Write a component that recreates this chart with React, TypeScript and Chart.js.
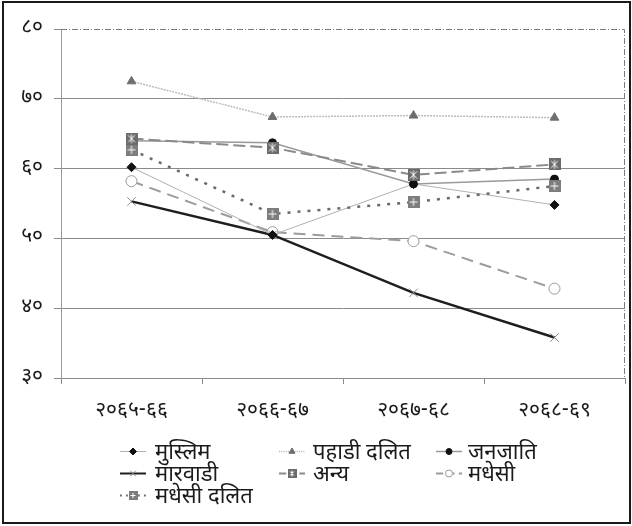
import React, { useEffect, useRef } from "react";
import { Chart, registerables } from "chart.js";
import { drawPoint } from "chart.js/helpers";

Chart.register(...registerables);

const categories = ["२०६५-६६", "२०६६-६७", "२०६७-६८", "२०६८-६९"];
const muslim = [60.2, 50.5, 57.8, 54.8];
const pahadiDalit = [72.5, 67.4, 67.6, 67.3];
const janajati = [64.0, 63.7, 57.8, 58.5];
const marwadi = [55.3, 50.5, 42.2, 35.8];
const anya = [64.3, 63.0, 59.1, 60.6];
const madhesi = [58.2, 50.9, 49.6, 42.8];
const madhesiDalit = [62.7, 53.5, 55.2, 57.5];
const seriesNames = ["मुस्लिम", "पहाडी दलित", "जनजाति", "मारवाडी", "अन्य", "मधेसी", "मधेसी दलित"];
const yMin = 30;
const yMax = 80;
const yStep = 10;

const DEV = "०१२३४५६७८९";
const toDev = (n: number) => String(n).replace(/[0-9]/g, (d) => DEV[Number(d)]);

const FONT = "'Noto Sans Devanagari', 'Lohit Devanagari', 'Noto Sans', 'DejaVu Sans', sans-serif";

function makeSquareMarker(kind: "star" | "plus", size: number, fill: string) {
  const c = document.createElement("canvas");
  c.width = size;
  c.height = size;
  const g = c.getContext("2d")!;
  g.fillStyle = fill;
  g.fillRect(0, 0, size, size);
  g.strokeStyle = "#ffffff";
  g.lineWidth = 1;
  const m = size / 2;
  g.beginPath();
  if (kind === "plus") {
    g.moveTo(m, 2);
    g.lineTo(m, size - 2);
    g.moveTo(2, m);
    g.lineTo(size - 2, m);
  } else {
    g.moveTo(m, 1.5);
    g.lineTo(m, size - 1.5);
    g.moveTo(2.5, 2.5);
    g.lineTo(size - 2.5, size - 2.5);
    g.moveTo(size - 2.5, 2.5);
    g.lineTo(2.5, size - 2.5);
  }
  g.stroke();
  return c;
}

export default function App() {
  const ref = useRef<HTMLCanvasElement | null>(null);

  useEffect(() => {
    const canvas = ref.current;
    if (!canvas) return;

    const anyaMarker = makeSquareMarker("star", 12, "#6b6b6b");
    const mdMarker = makeSquareMarker("plus", 12, "#7d7d7d");
    const anyaMarkerSmall = makeSquareMarker("star", 9, "#6b6b6b");
    const mdMarkerSmall = makeSquareMarker("plus", 9, "#7d7d7d");

    const styles = [
      { data: muslim, order: 2, borderColor: "#b0b0b0", borderWidth: 1, borderDash: [], pointStyle: "rectRot", radius: 4.5, bg: "#111", pb: "#111", legendPoint: "rectRot", legendRadius: 3.5 },
      { data: pahadiDalit, order: 2, borderColor: "#bdbdbd", borderWidth: 1.5, borderDash: [2, 1], pointStyle: "triangle", radius: 5, bg: "#6e6e6e", pb: "#6e6e6e", legendPoint: "triangle", legendRadius: 3.5 },
      { data: janajati, order: 1, borderColor: "#9a9a9a", borderWidth: 1.5, borderDash: [], pointStyle: "circle", radius: 4, bg: "#111", pb: "#111", legendPoint: "circle", legendRadius: 3 },
      { data: marwadi, order: 2, borderColor: "#1e1e1e", borderWidth: 2.5, borderDash: [], pointStyle: "crossRot", radius: 6, bg: "#8a8a8a", pb: "#8a8a8a", legendPoint: "crossRot", legendRadius: 4 },
      { data: anya, order: 0, borderColor: "#8a8a8a", borderWidth: 2, borderDash: [12, 5], pointStyle: anyaMarker, radius: 6, bg: "#6b6b6b", pb: "#6b6b6b", legendPoint: anyaMarkerSmall, legendRadius: 4.5 },
      { data: madhesi, order: 2, borderColor: "#9c9c9c", borderWidth: 2, borderDash: [12, 7], pointStyle: "circle", radius: 5.5, bg: "#ffffff", pb: "#9a9a9a", legendPoint: "circle", legendRadius: 3.5 },
      { data: madhesiDalit, order: 0, borderColor: "#6a6a6a", borderWidth: 2.5, borderDash: [3, 7], pointStyle: mdMarker, radius: 6, bg: "#7d7d7d", pb: "#7d7d7d", legendPoint: mdMarkerSmall, legendRadius: 4.5 },
    ];

    const datasets = styles.map((s, i) => ({
      label: seriesNames[i],
      data: s.data,
      order: s.order,
      borderColor: s.borderColor,
      borderWidth: s.borderWidth,
      borderDash: s.borderDash,
      pointStyle: s.pointStyle as any,
      pointRadius: s.radius,
      pointBackgroundColor: s.bg,
      pointBorderColor: s.pb,
      pointBorderWidth: 1,
      tension: 0,
      fill: false,
    }));

    const frame = {
      id: "frame",
      beforeDatasetsDraw(chart: any) {
        const { ctx, chartArea } = chart;
        ctx.save();
        ctx.strokeStyle = "#7a7a7a";
        ctx.lineWidth = 1;
        ctx.setLineDash([6, 2, 1, 2]);
        ctx.beginPath();
        ctx.moveTo(chartArea.left, chartArea.top + 0.5);
        ctx.lineTo(chartArea.right - 0.5, chartArea.top + 0.5);
        ctx.lineTo(chartArea.right - 0.5, chartArea.bottom);
        ctx.stroke();
        ctx.restore();
      },
      afterDraw(chart: any) {
        const { ctx } = chart;
        ctx.save();
        // outer border
        ctx.strokeStyle = "#1a1a1a";
        ctx.lineWidth = 2;
        ctx.setLineDash([]);
        ctx.strokeRect(3, 2, 627, 521);

        // legend
        const colLine = [120, 279, 436];
        const colText = [155, 313, 468];
        const rows = [451, 473, 495];
        const lineLen = 26;
        styles.forEach((s, i) => {
          const col = i % 3;
          const row = Math.floor(i / 3);
          const y = rows[row];
          const x0 = colLine[col];
          ctx.save();
          ctx.strokeStyle = s.borderColor;
          ctx.lineWidth = Math.min(s.borderWidth, 2);
          const dash = s.borderDash.length ? s.borderDash.map((d: number) => Math.max(1, d * 0.6)) : [];
          ctx.setLineDash(dash);
          ctx.beginPath();
          ctx.moveTo(x0, y + 0.5);
          ctx.lineTo(x0 + lineLen, y + 0.5);
          ctx.stroke();
          ctx.setLineDash([]);
          ctx.fillStyle = s.bg;
          ctx.strokeStyle = s.pb;
          ctx.lineWidth = 1;
          drawPoint(ctx, { pointStyle: s.legendPoint as any, radius: s.legendRadius, rotation: 0, borderWidth: 1 } as any, x0 + lineLen / 2, y + 0.5);
          ctx.restore();
          ctx.fillStyle = "#1a1a1a";
          ctx.font = `22px ${FONT}`;
          ctx.textAlign = "left";
          ctx.textBaseline = "middle";
          ctx.fillText(seriesNames[i], colText[col], y + 4);
        });
        ctx.restore();
      },
    };

    const chart = new Chart(canvas, {
      type: "line",
      data: { labels: categories, datasets },
      options: {
        animation: false,
        responsive: false,
        devicePixelRatio: 1,
        layout: { padding: { top: 29, right: 7, left: 0, bottom: 0 } },
        plugins: { legend: { display: false }, tooltip: { enabled: false } },
        scales: {
          x: {
            offset: true,
            afterFit: (scale: any) => {
              scale.height = 148;
            },
            grid: {
              offset: true,
              drawOnChartArea: false,
              drawTicks: true,
              tickLength: 6,
              color: "#8a8a8a",
            },
            border: { color: "#8a8a8a", width: 1 },
            ticks: {
              color: "#1a1a1a",
              padding: 15,
              font: { family: FONT, size: 21 },
              maxRotation: 0,
            },
          },
          y: {
            min: yMin,
            max: yMax,
            afterFit: (scale: any) => {
              scale.width = 61;
            },
            grid: {
              color: (c: any) => (c.tick && c.tick.value === yMax ? "rgba(0,0,0,0)" : "#8a8a8a"),
              tickColor: "#8a8a8a",
              tickLength: 7,
              lineWidth: 1,
            },
            border: { color: "#9a9a9a", width: 1 },
            ticks: {
              stepSize: yStep,
              color: "#1a1a1a",
              padding: 11,
              font: { family: FONT, size: 21 },
              callback: (v: any) => toDev(Number(v)),
            },
          },
        },
      },
      plugins: [frame],
    });

    return () => chart.destroy();
  }, []);

  return (
    <div style={{ position: "absolute", left: 0, top: 0, width: 632, height: 526, background: "#fff" }}>
      <canvas ref={ref} width={632} height={526} style={{ display: "block", width: 632, height: 526 }} />
    </div>
  );
}
